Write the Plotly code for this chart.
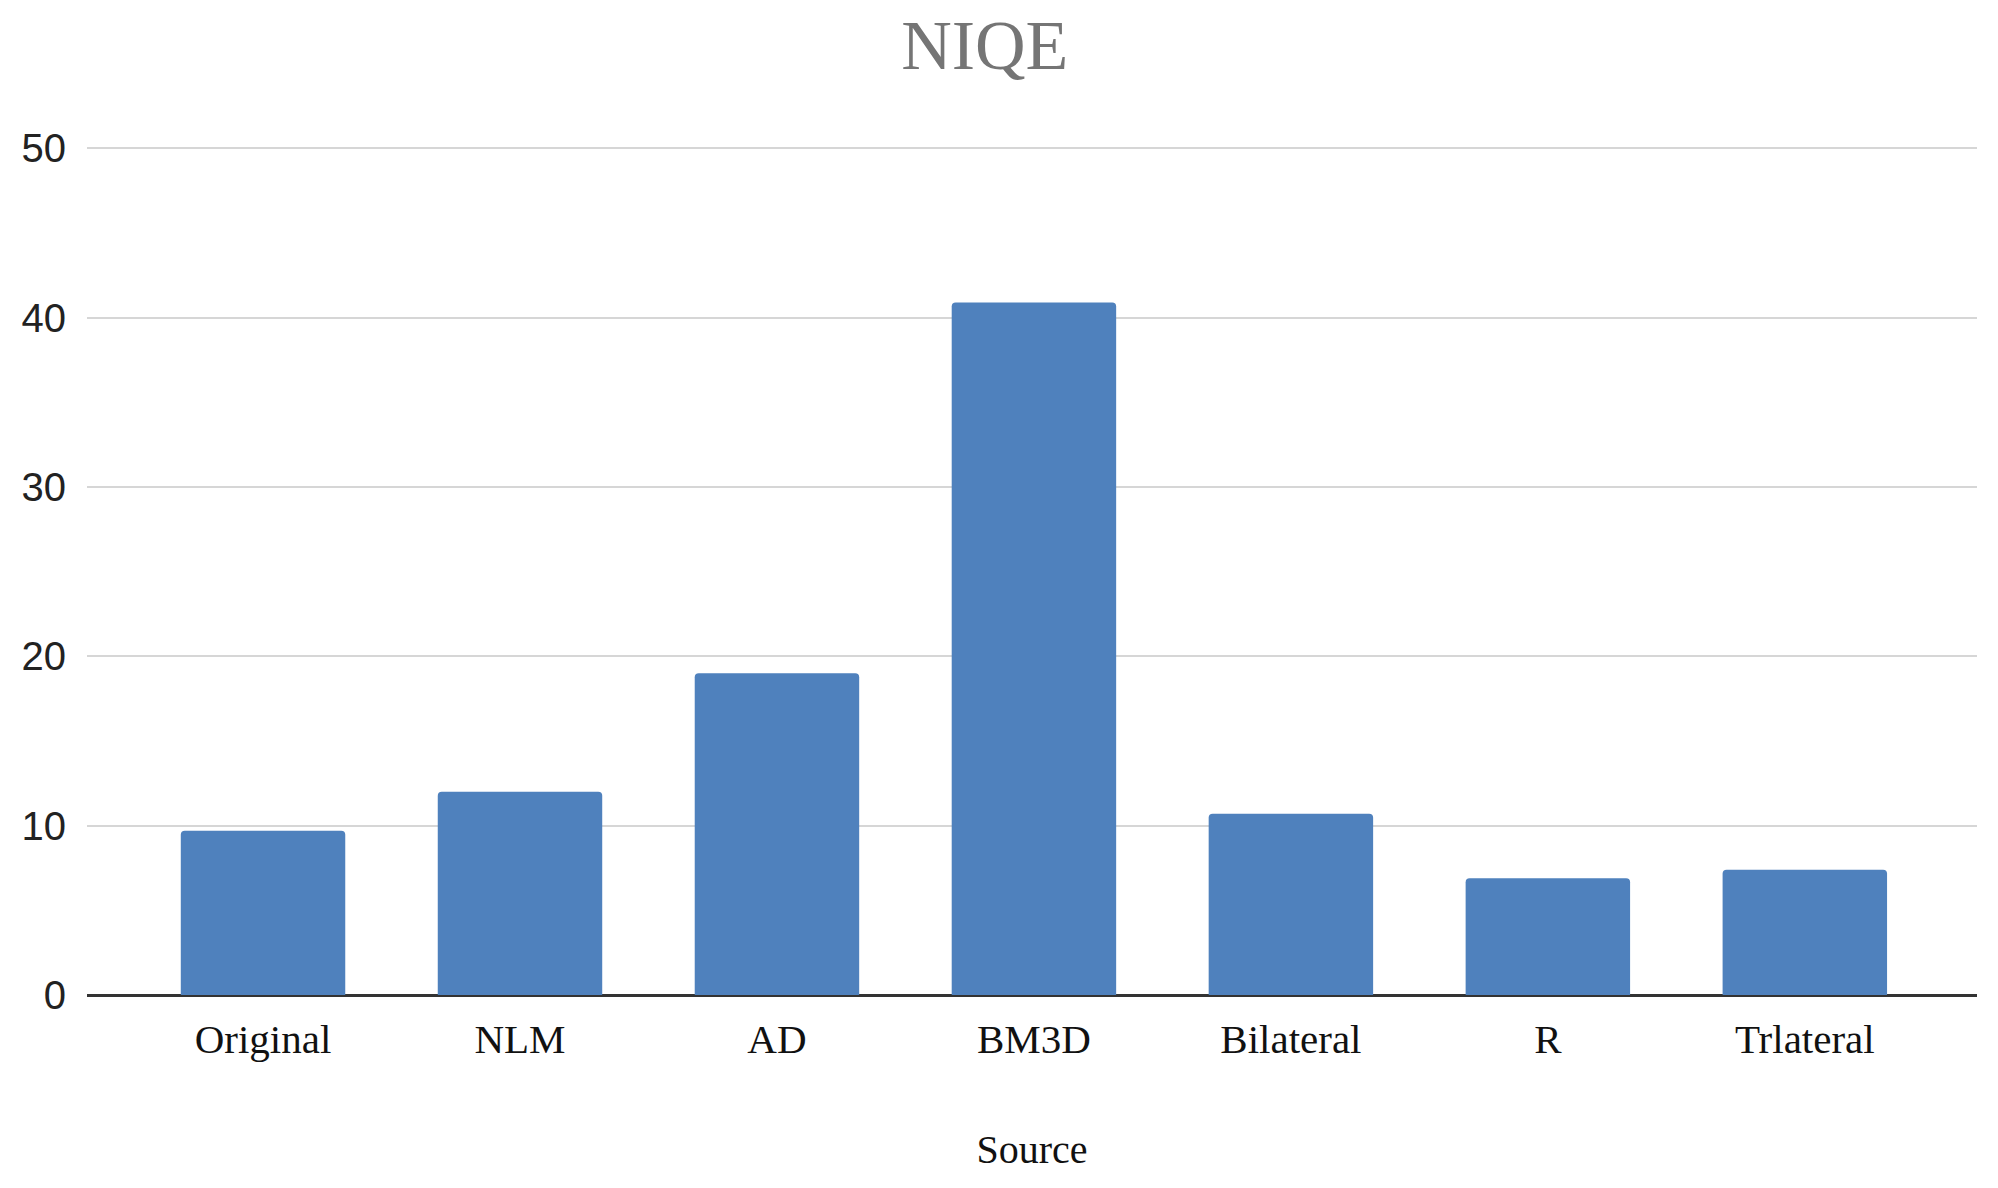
import plotly.graph_objects as go

categories = ["Original", "NLM", "AD", "BM3D", "Bilateral", "R", "Trlateral"]
values = [9.7, 12.0, 19.0, 40.9, 10.7, 6.9, 7.4]
y_ticks = [0, 10, 20, 30, 40, 50]

fig = go.Figure(
    go.Bar(
        x=categories,
        y=values,
        marker=dict(color="#4f81bd", line=dict(width=0)),
    )
)

fig.update_layout(
    width=1998,
    height=1188,
    paper_bgcolor="white",
    plot_bgcolor="white",
    margin=dict(l=79, r=29, t=137, b=201),
    bargap=0.36,
    barcornerradius=4,
    showlegend=False,
    title=dict(
        text="NIQE",
        font=dict(family="Liberation Serif", size=70, color="#757575"),
        x=0.475,
        xanchor="center",
        xref="paper",
        y=1 - 36 / 1188,
        yanchor="middle",
        yref="container",
    ),
)

fig.update_xaxes(
    range=[-0.685, 6.67],
    showgrid=False,
    showline=False,
    ticks="",
    tickfont=dict(family="Liberation Serif", size=41, color="#111111"),
    ticklabelstandoff=16,
    title=dict(
        text="Source",
        font=dict(family="Liberation Serif", size=40, color="#111111"),
        standoff=73,
    ),
)

fig.update_yaxes(
    range=[0, 50.2],
    tickvals=y_ticks,
    showgrid=True,
    gridcolor="#d6d6d6",
    gridwidth=2,
    zeroline=True,
    zerolinecolor="#333333",
    zerolinewidth=3,
    showline=False,
    ticks="",
    tickfont=dict(family="Liberation Sans", size=40, color="#222222"),
    ticklabelstandoff=20,
)

fig.write_html("out.html")
